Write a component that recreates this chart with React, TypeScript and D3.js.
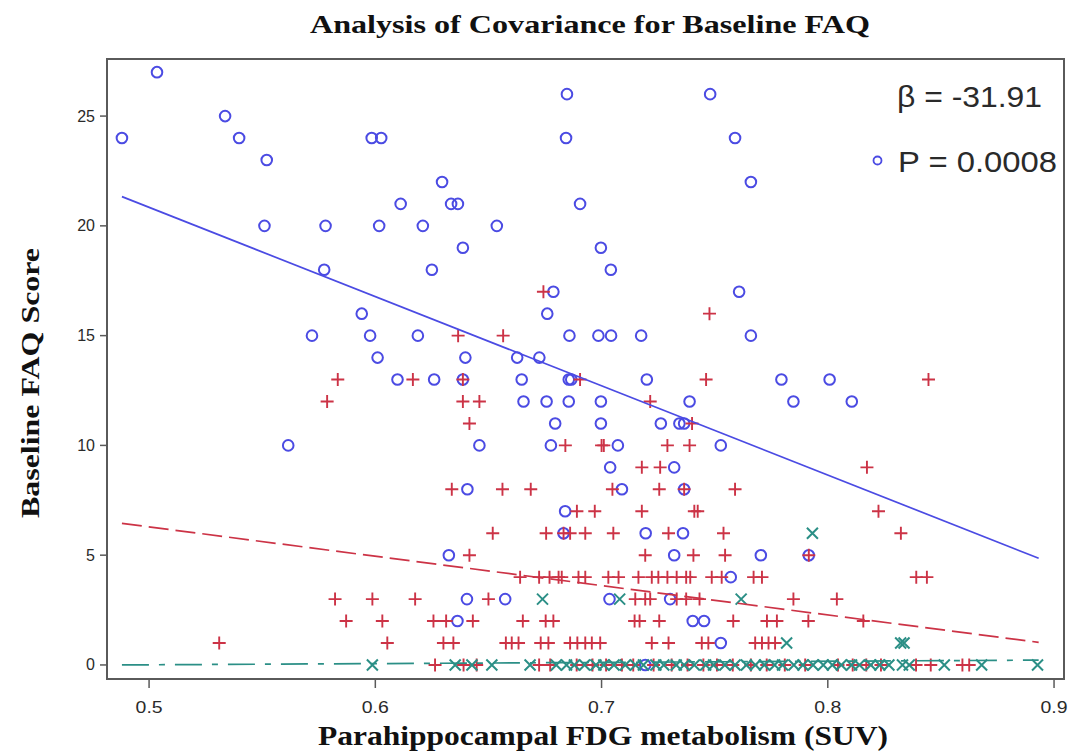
import React from 'react';
import * as d3 from 'd3';

// Plot frame in page pixels
const W = 1074;
const H = 756;
const frame = { left: 107, right: 1064, top: 59, bottom: 679 };

const xDomain: [number, number] = [0.4814, 0.9044];
const yDomain: [number, number] = [-0.64, 27.6];
const xTicks = [0.5, 0.6, 0.7, 0.8, 0.9];
const yTicks = [0, 5, 10, 15, 20, 25];

const titleText = 'Analysis of Covariance for Baseline FAQ';
const xLabel = 'Parahippocampal FDG metabolism (SUV)';
const yLabel = 'Baseline FAQ Score';
const statBeta = 'β = -31.91';
const statP = 'P = 0.0008';

// Circle group: [SUV, FAQ]
const circleGroup: [number, number][] = [
  [0.5035, 27],
  [0.6847, 26], [0.748, 26],
  [0.5336, 25],
  [0.488, 24], [0.5398, 24], [0.5984, 24], [0.6026, 24], [0.6843, 24], [0.759, 24],
  [0.552, 23],
  [0.6295, 22], [0.766, 22],
  [0.6112, 21], [0.6335, 21], [0.6365, 21], [0.6905, 21],
  [0.551, 20], [0.578, 20], [0.6017, 20], [0.621, 20], [0.6537, 20],
  [0.6387, 19], [0.6997, 19],
  [0.5774, 18], [0.625, 18], [0.7041, 18],
  [0.6787, 17], [0.7608, 17],
  [0.594, 16], [0.676, 16],
  [0.572, 15], [0.5977, 15], [0.6188, 15], [0.6858, 15], [0.6986, 15], [0.7042, 15], [0.7175, 15], [0.766, 15],
  [0.601, 14], [0.6398, 14], [0.6627, 14], [0.6725, 14],
  [0.6098, 13], [0.626, 13], [0.6387, 13], [0.6647, 13], [0.6855, 13], [0.6866, 13], [0.72, 13], [0.7795, 13], [0.8008, 13],
  [0.6655, 12], [0.6757, 12], [0.6855, 12], [0.6997, 12], [0.7389, 12], [0.7848, 12], [0.8106, 12],
  [0.6795, 11], [0.6997, 11], [0.7262, 11], [0.7344, 11], [0.7365, 11],
  [0.5615, 10], [0.646, 10], [0.6776, 10], [0.7072, 10], [0.7527, 10],
  [0.7038, 9], [0.7321, 9],
  [0.6407, 8], [0.709, 8], [0.7365, 8],
  [0.6839, 7],
  [0.6832, 6], [0.7195, 6], [0.736, 6],
  [0.6325, 5], [0.7321, 5], [0.7704, 5], [0.7916, 5],
  [0.7571, 4],
  [0.6405, 3], [0.6574, 3], [0.7035, 3], [0.7303, 3],
  [0.6363, 2], [0.7403, 2], [0.7453, 2],
  [0.7527, 1],
  [0.7193, 0],
];

// Plus group: [SUV, FAQ]
const plusGroup: [number, number][] = [
  [0.6743, 17],
  [0.7477, 16],
  [0.6366, 15], [0.6565, 15],
  [0.5834, 13], [0.6166, 13], [0.6387, 13], [0.6905, 13], [0.7462, 13], [0.8445, 13],
  [0.5787, 12], [0.6387, 12], [0.646, 12], [0.7215, 12],
  [0.6416, 11], [0.74, 11],
  [0.684, 10], [0.7, 10], [0.701, 10], [0.7291, 10], [0.7389, 10],
  [0.7178, 9], [0.7259, 9], [0.8173, 9],
  [0.6338, 8], [0.6562, 8], [0.6687, 8], [0.7048, 8], [0.7255, 8], [0.7365, 8], [0.759, 8],
  [0.6891, 7], [0.697, 7], [0.7178, 7], [0.741, 7], [0.7425, 7], [0.8224, 7],
  [0.6519, 6], [0.6755, 6], [0.6832, 6], [0.6861, 6], [0.6928, 6], [0.7052, 6], [0.7296, 6], [0.7539, 6], [0.8323, 6],
  [0.6416, 5], [0.7193, 5], [0.7406, 5], [0.7546, 5], [0.7916, 5],
  [0.664, 4], [0.6724, 4], [0.677, 4], [0.681, 4], [0.6824, 4], [0.6898, 4], [0.6928, 4], [0.703, 4], [0.7075, 4],
  [0.7163, 4], [0.7222, 4], [0.7251, 4], [0.7291, 4], [0.7332, 4], [0.7374, 4], [0.7392, 4], [0.7487, 4], [0.7531, 4],
  [0.7672, 4], [0.7709, 4], [0.8391, 4], [0.8438, 4],
  [0.5822, 3], [0.5987, 3], [0.6176, 3], [0.65, 3], [0.7149, 3], [0.7193, 3], [0.7215, 3], [0.7332, 3], [0.7374, 3],
  [0.7433, 3], [0.7848, 3], [0.804, 3],
  [0.5871, 2], [0.6031, 2], [0.6257, 2], [0.6313, 2], [0.6431, 2], [0.6652, 2], [0.6753, 2], [0.6787, 2], [0.7146, 2],
  [0.7168, 2], [0.7255, 2], [0.7582, 2], [0.7731, 2], [0.7775, 2], [0.7914, 2], [0.8157, 2],
  [0.531, 1], [0.6053, 1], [0.6301, 1], [0.6345, 1], [0.6577, 1], [0.6603, 1], [0.6633, 1], [0.6731, 1], [0.6765, 1],
  [0.6861, 1], [0.6893, 1], [0.6928, 1], [0.6957, 1], [0.6994, 1], [0.7222, 1], [0.7296, 1], [0.7443, 1], [0.7472, 1],
  [0.7679, 1], [0.7709, 1], [0.7738, 1], [0.7767, 1],
  [0.6264, 0], [0.639, 0], [0.6448, 0], [0.6724, 0], [0.6773, 0], [0.689, 0], [0.696, 0], [0.702, 0], [0.709, 0],
  [0.714, 0], [0.723, 0], [0.731, 0], [0.738, 0], [0.745, 0], [0.751, 0], [0.758, 0], [0.766, 0], [0.773, 0],
  [0.781, 0], [0.79, 0], [0.8045, 0], [0.811, 0], [0.817, 0], [0.8235, 0], [0.839, 0], [0.8455, 0], [0.8595, 0], [0.8625, 0],
];

// Cross group: [SUV, FAQ]
const crossGroup: [number, number][] = [
  [0.7932, 6],
  [0.6739, 3], [0.708, 3], [0.7617, 3],
  [0.7818, 1], [0.8322, 1], [0.8337, 1],
  [0.5987, 0], [0.6353, 0], [0.6427, 0], [0.6515, 0], [0.6684, 0], [0.68, 0], [0.6845, 0], [0.688, 0], [0.6925, 0],
  [0.6975, 0], [0.701, 0], [0.7055, 0], [0.7105, 0], [0.715, 0], [0.7185, 0], [0.724, 0], [0.7275, 0], [0.733, 0],
  [0.7365, 0], [0.741, 0], [0.746, 0], [0.7495, 0], [0.7545, 0], [0.759, 0], [0.764, 0], [0.768, 0], [0.772, 0],
  [0.7765, 0], [0.78, 0], [0.785, 0], [0.789, 0], [0.7935, 0], [0.798, 0], [0.802, 0], [0.806, 0], [0.8105, 0],
  [0.814, 0], [0.819, 0], [0.823, 0], [0.827, 0], [0.833, 0], [0.836, 0], [0.8515, 0], [0.868, 0], [0.8927, 0],
];

// Fitted regression lines (end points)
const fitX = [0.488, 0.8932];
const fitCircle = [21.33, 4.86];
const fitPlus = [6.45, 1.03];
const fitCross = [0.0, 0.22];

const blue = '#4b4be3';
const red = '#cc3346';
const teal = '#2b8f86';
const axisGray = '#5a5a5a';
const textDark = '#2a2a2a';

export default function App() {
  const x = d3.scaleLinear().domain(xDomain).range([frame.left, frame.right]);
  const y = d3.scaleLinear().domain(yDomain).range([frame.bottom, frame.top]);
  const line = d3
    .line<[number, number]>()
    .x((d) => x(d[0]))
    .y((d) => y(d[1]));
  const fitPath = (vals: number[]) =>
    line(fitX.map((v, i) => [v, vals[i]] as [number, number])) || '';

  const fmt = d3.format('.1f');

  return (
    <svg
      width={W}
      height={H}
      style={{ position: 'absolute', left: 0, top: 0, background: '#fff' }}
    >
      <rect x={0} y={0} width={W} height={H} fill="#fff" />
      <text
        x={590}
        y={33}
        textAnchor="middle"
        fontFamily="'Liberation Serif', 'Times New Roman', serif"
        fontWeight="bold"
        fontSize={25}
        fill="#111"
        textLength={560}
        lengthAdjust="spacingAndGlyphs"
      >
        {titleText}
      </text>

      {/* points */}
      <g fill="none" stroke={blue} strokeWidth={2}>
        {circleGroup.map((d, i) => (
          <circle key={i} cx={x(d[0])} cy={y(d[1])} r={5.3} />
        ))}
      </g>
      <g fill="none" stroke={red} strokeWidth={1.9}>
        {plusGroup.map((d, i) => (
          <path
            key={i}
            transform={`translate(${x(d[0])},${y(d[1])})`}
            d="M-6.5,0H6.5M0,-6.5V6.5"
          />
        ))}
      </g>
      <g fill="none" stroke={teal} strokeWidth={2}>
        {crossGroup.map((d, i) => (
          <path
            key={i}
            transform={`translate(${x(d[0])},${y(d[1])})`}
            d="M-5.5,-5.5L5.5,5.5M-5.5,5.5L5.5,-5.5"
          />
        ))}
      </g>

      {/* fit lines */}
      <path d={fitPath(fitCircle)} fill="none" stroke={blue} strokeWidth={1.7} />
      <path
        d={fitPath(fitPlus)}
        fill="none"
        stroke={red}
        strokeWidth={1.7}
        strokeDasharray="20,7"
      />
      <path
        d={fitPath(fitCross)}
        fill="none"
        stroke={teal}
        strokeWidth={1.7}
        strokeDasharray="27,10,6,10"
      />

      {/* frame */}
      <rect
        x={frame.left}
        y={frame.top}
        width={frame.right - frame.left}
        height={frame.bottom - frame.top}
        fill="none"
        stroke={axisGray}
        strokeWidth={2}
      />

      {/* y axis */}
      {yTicks.map((t) => (
        <g key={t}>
          <line x1={frame.left - 7} x2={frame.left} y1={y(t)} y2={y(t)} stroke={axisGray} strokeWidth={1.5} />
          <text
            x={frame.left - 12}
            y={y(t) + 5.5}
            textAnchor="end"
            fontFamily="'Liberation Sans', Arial, sans-serif"
            fontSize={16}
            fill={textDark}
          >
            {t}
          </text>
        </g>
      ))}
      {/* x axis */}
      {xTicks.map((t) => (
        <g key={t}>
          <line x1={x(t)} x2={x(t)} y1={frame.bottom} y2={frame.bottom + 9} stroke={axisGray} strokeWidth={1.5} />
          <text
            x={x(t)}
            y={frame.bottom + 34}
            textAnchor="middle"
            fontFamily="'Liberation Sans', Arial, sans-serif"
            fontSize={16}
            fill={textDark}
            textLength={27}
            lengthAdjust="spacingAndGlyphs"
          >
            {fmt(t)}
          </text>
        </g>
      ))}

      <text
        x={603}
        y={745}
        textAnchor="middle"
        fontFamily="'Liberation Serif', 'Times New Roman', serif"
        fontWeight="bold"
        fontSize={27}
        fill="#111"
        textLength={570}
        lengthAdjust="spacingAndGlyphs"
      >
        {xLabel}
      </text>
      <text
        transform={`translate(39,383) rotate(-90)`}
        textAnchor="middle"
        fontFamily="'Liberation Serif', 'Times New Roman', serif"
        fontWeight="bold"
        fontSize={26}
        fill="#111"
        textLength={270}
        lengthAdjust="spacingAndGlyphs"
      >
        {yLabel}
      </text>

      {/* statistics inset */}
      <text
        x={897}
        y={107}
        fontFamily="'Liberation Sans', Arial, sans-serif"
        fontSize={30}
        fill={textDark}
        textLength={145}
        lengthAdjust="spacingAndGlyphs"
      >
        {statBeta}
      </text>
      <circle cx={877.5} cy={160.5} r={4} fill="none" stroke={blue} strokeWidth={1.8} />
      <text
        x={898}
        y={172}
        fontFamily="'Liberation Sans', Arial, sans-serif"
        fontSize={30}
        fill={textDark}
        textLength={159}
        lengthAdjust="spacingAndGlyphs"
      >
        {statP}
      </text>
    </svg>
  );
}
